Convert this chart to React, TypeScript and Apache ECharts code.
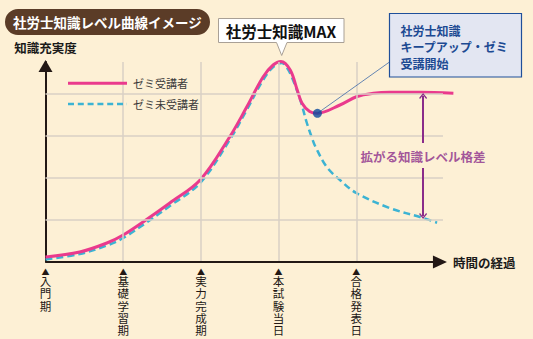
import React, { useEffect, useRef } from 'react';
import * as echarts from 'echarts';

// Phases on the time axis (x = 0..4)
const phases = ['入門期', '基礎学習期', '実力完成期', '本試験当日', '合格発表日'];
const phaseGuides = [1, 2, 3, 4];
const levelGuides = [42, 84, 126, 168];
const guideEndX = 5.116;
const axisEndX = 5.077;

// ゼミ受講者 (solid pink)
const zemiX = [0, 0.44, 0.79, 1.0, 1.31, 1.6, 1.99, 2.37, 2.59, 2.8, 2.93, 3.03, 3.15, 3.24, 3.3, 3.4, 3.5, 3.79, 4.01, 4.22, 4.43, 4.82, 5.25];
const zemiY = [5, 10, 19, 27, 43, 59, 82, 125, 155, 185, 197, 200.5, 192, 172, 159, 150.5, 148.7, 157, 165.5, 168.7, 169.7, 169.7, 168.7];

// ゼミ未受講者 (dashed cyan)
const nonX = [0, 0.44, 0.79, 1.0, 1.31, 1.6, 1.99, 2.37, 2.59, 2.8, 2.93, 3.04, 3.11, 3.17, 3.28, 3.36, 3.43, 3.47, 3.62, 3.79, 4.0, 4.43, 4.86, 5.04];
const nonY = [2.5, 8, 16.5, 24, 40, 56, 79, 122, 152, 182, 195, 199, 194, 185, 162, 140, 124, 116, 95, 82, 69, 54, 44, 39.3];

// Start of the keep-up seminar
const startPoint = [3.5, 148.7];

// Gap arrow (拡がる知識レベル格差)
const gapX = 4.86;
const gapTop = 166;
const gapUpperEnd = 119;
const gapLowerStart = 94;
const gapBottom = 46;
const gapLabelY = 105.5;

const seriesNames = ['ゼミ受講者', 'ゼミ未受講者'];

const FONT = '"Noto Sans CJK JP", "Noto Sans", sans-serif';
const PINK = '#ea3a8d';
const CYAN = '#3cb3d3';
const PURPLE = '#8a2c8a';
const GRID = '#d8d1c5';
const AXIS = '#231815';
const chevron = 'path://M5,0 L10,7 L8.8,8.2 L5,2.6 L1.2,8.2 L0,7 Z';

export default function App() {
  const ref = useRef<HTMLDivElement>(null);
  useEffect(() => {
    if (!ref.current) return;
    const chart = echarts.init(ref.current, undefined, { renderer: 'svg' });
    const zemi = zemiX.map((x, i) => [x, zemiY[i]]);
    const non = nonX.map((x, i) => [x, nonY[i]]);
    chart.setOption({
      animation: false,
      backgroundColor: '#fdf0d5',
      textStyle: { fontFamily: FONT },
      title: {
        text: '社労士知識レベル曲線イメージ',
        left: 5,
        top: 9,
        backgroundColor: '#5b3c27',
        borderRadius: 13,
        padding: [5, 8, 5, 8],
        textStyle: { color: '#ffffff', fontSize: 13.5, fontWeight: 'bold', lineHeight: 16, fontFamily: FONT },
      },
      grid: { left: 45.5, right: 80, top: 62, bottom: 77, containLabel: false, outerBoundsMode: 'none' },
      xAxis: {
        type: 'value',
        min: 0,
        max: 5.245,
        interval: 1,
        name: '時間の経過',
        nameLocation: 'end',
        nameGap: 0,
        nameTextStyle: { fontSize: 12.5, fontWeight: 'bold', color: '#1a1a1a', verticalAlign: 'middle', fontFamily: FONT },
        axisLine: { show: false },
        axisTick: { show: false },
        splitLine: { show: false },
        axisLabel: {
          margin: 5,
          color: AXIS,
          showMaxLabel: false,
          formatter: (v: number) => {
            const i = Math.round(v);
            if (Math.abs(v - i) > 1e-6 || i < 0 || i >= phases.length) return '';
            return '{t|▲}\n' + phases[i].split('').map((c) => '{c|' + c + '}').join('\n');
          },
          rich: {
            t: { fontSize: 8, lineHeight: 8, color: AXIS, fontFamily: FONT },
            c: { fontSize: 11.5, lineHeight: 12.3, color: AXIS, fontFamily: FONT },
          },
        },
      },
      yAxis: {
        type: 'value',
        min: 0,
        max: 200,
        interval: 42,
        name: '知識充実度',
        nameLocation: 'end',
        nameGap: 8,
        nameTextStyle: { fontSize: 12.5, fontWeight: 'bold', color: '#1a1a1a', align: 'center', fontFamily: FONT },
        axisLine: {
          show: true,
          lineStyle: { color: AXIS, width: 2 },
          symbol: ['none', 'triangle'],
          symbolSize: [14, 12],
          symbolOffset: [0, -4],
        },
        axisTick: { show: false },
        axisLabel: { show: false },
        splitLine: { show: false },
      },
      graphic: [
        // legend
        {
          type: 'line',
          shape: { x1: 68, y1: 83.3, x2: 127, y2: 83.3 },
          style: { stroke: PINK, lineWidth: 3 },
          z: 10,
        },
        {
          type: 'text',
          x: 133,
          y: 83.3,
          style: {
            text: seriesNames[0],
            fill: '#3a3a3a',
            font: '11px ' + FONT,
            align: 'left',
            verticalAlign: 'middle',
            textAlign: 'left',
            textVerticalAlign: 'middle',
          },
          z: 10,
        },
        {
          type: 'line',
          shape: { x1: 68, y1: 104, x2: 127, y2: 104 },
          style: { stroke: CYAN, lineWidth: 2.5, lineDash: [6, 3.8] },
          z: 10,
        },
        {
          type: 'text',
          x: 133,
          y: 104,
          style: {
            text: seriesNames[1],
            fill: '#3a3a3a',
            font: '11px ' + FONT,
            align: 'left',
            verticalAlign: 'middle',
            textAlign: 'left',
            textVerticalAlign: 'middle',
          },
          z: 10,
        },
        // MAX callout
        {
          type: 'polygon',
          shape: {
            points: [[218.5, 18.5], [344, 18.5], [344, 42.5], [287, 42.5], [281.7, 55.5], [276.5, 42.5], [218.5, 42.5]],
          },
          style: { fill: '#ffffff', stroke: '#a9a096', lineWidth: 1 },
          z: 10,
        },
        {
          type: 'text',
          x: 281,
          y: 30.5,
          style: {
            text: '社労士知識MAX',
            fill: '#111111',
            font: 'bold 15.5px ' + FONT,
            align: 'center',
            verticalAlign: 'middle',
            textAlign: 'center',
            textVerticalAlign: 'middle',
          },
          z: 11,
        },
        // Seminar start callout
        {
          type: 'rect',
          shape: { x: 389.5, y: 13.5, width: 132, height: 63.5 },
          style: { fill: '#e3e6f2', stroke: '#1f4f9a', lineWidth: 1.2 },
          z: 10,
        },
        {
          type: 'text',
          x: 400.5,
          y: 21.7,
          style: {
            text: '社労士知識\nキープアップ・ゼミ\n受講開始',
            fill: '#1d4a93',
            font: 'bold 12px ' + FONT,
            lineHeight: 16.8,
            align: 'left',
            verticalAlign: 'top',
            textAlign: 'left',
            textVerticalAlign: 'top',
          },
          z: 11,
        },
      ],
      series: [
        {
          name: 'guides',
          type: 'line',
          data: [],
          silent: true,
          z: 1,
          markLine: {
            silent: true,
            symbol: ['none', 'none'],
            label: { show: false },
            lineStyle: { color: GRID, width: 1.5, type: 'solid' },
            data: [
              ...phaseGuides.map((v) => ({ xAxis: v })),
              ...levelGuides.map((y) => [{ coord: [0, y] }, { coord: [guideEndX, y] }]),
            ],
          },
        },
        {
          name: 'timeAxis',
          type: 'line',
          data: [],
          silent: true,
          z: 5,
          markLine: {
            silent: true,
            symbolSize: [13, 14],
            label: { show: false },
            lineStyle: { color: AXIS, width: 2, type: 'solid' },
            data: [[{ coord: [0, 0], symbol: 'none' }, { coord: [axisEndX, 0], symbol: 'triangle' }]],
          },
        },
        {
          name: seriesNames[1],
          type: 'line',
          data: non,
          smooth: 0.35,
          symbol: 'none',
          clip: false,
          z: 3,
          lineStyle: { color: CYAN, width: 2.5, type: [7, 4] },
          itemStyle: { color: CYAN },
        },
        {
          name: seriesNames[0],
          type: 'line',
          data: zemi,
          smooth: 0.35,
          symbol: 'none',
          clip: false,
          z: 4,
          lineStyle: { color: PINK, width: 3 },
          itemStyle: { color: PINK },
        },
        {
          name: 'start',
          type: 'scatter',
          data: [startPoint],
          symbolSize: 9,
          z: 6,
          itemStyle: { color: '#0b4a9d' },
          markLine: {
            silent: true,
            symbol: ['none', 'none'],
            label: { show: false },
            lineStyle: { color: '#3e6aa8', width: 0.8, type: 'solid' },
            data: [[{ coord: startPoint }, { x: 389.5, y: 62 }]],
          },
        },
        {
          name: 'gap',
          type: 'scatter',
          data: [[gapX, gapLabelY]],
          symbolSize: 1,
          z: 6,
          silent: true,
          itemStyle: { color: 'rgba(0,0,0,0)' },
          label: {
            show: true,
            position: 'inside',
            formatter: '拡がる知識レベル格差',
            color: PURPLE,
            fontSize: 12.5,
            fontWeight: 'bold',
            fontFamily: FONT,
          },
          markLine: {
            silent: true,
            symbolSize: [8, 6],
            label: { show: false },
            lineStyle: { color: PURPLE, width: 2, type: 'solid' },
            data: [
              [
                { coord: [gapX, gapUpperEnd], symbol: 'none' },
                { coord: [gapX, gapTop], symbol: chevron },
              ],
              [
                { coord: [gapX, gapLowerStart], symbol: 'none' },
                { coord: [gapX, gapBottom], symbol: chevron },
              ],
            ],
          },
        },
      ],
    });
    return () => chart.dispose();
  }, []);
  return <div ref={ref} style={{ position: 'fixed', left: 0, top: 0, width: 533, height: 339 }} />;
}
